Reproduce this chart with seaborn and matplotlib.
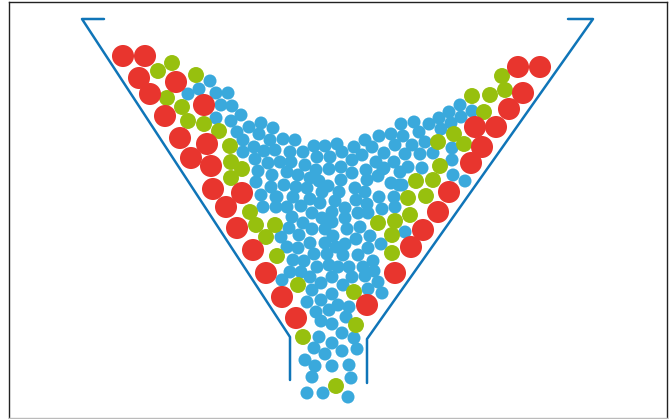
import pandas as pd
import matplotlib
matplotlib.use("Agg")
import matplotlib.pyplot as plt
import seaborn as sns

# particle centres
blue_x = [210, 199, 188, 216, 228, 221, 232, 216, 231, 241, 249, 261, 259, 237, 273,
          243, 254, 243, 270, 264, 275, 255, 268, 258, 272, 256, 271, 261, 276, 263,
          283, 295, 290, 303, 314, 325, 337, 354, 365, 379, 391, 395, 372, 384, 362, 342, 330, 317,
          280, 291, 305, 287, 284, 298, 296, 316, 310, 319, 329, 341, 352, 376, 394, 384, 366, 352,
          341, 367, 378, 391, 399, 307, 328, 355, 365, 339, 322, 277, 293, 379, 394, 287, 301, 310, 320, 335,
          356, 367, 382, 395, 276, 292, 312, 332, 345, 358, 368, 303, 322, 345, 332, 360,
          289, 281, 299, 312, 325, 347, 333, 356, 370, 287, 298, 310, 325, 345, 336, 368, 381,
          314, 327, 343, 358, 293, 304, 373, 363, 374, 329, 338, 349, 317, 290, 301, 310, 365, 352, 332, 282,
          321, 343, 378, 312, 332, 368, 382, 307, 321, 338, 329, 349, 316, 346, 321, 332, 342, 354, 319, 332,
          314, 342, 357, 325, 305, 315, 332, 349, 312, 351, 307, 323, 348,
          401, 414, 429, 439, 449, 461, 451, 441, 419, 403, 412, 425, 405, 420, 433, 452, 452, 408, 422, 400,
          453, 465, 402, 460, 472, 383, 405]
blue_y = [81, 89, 94, 93, 93, 105, 106, 118, 121, 115, 127, 123, 134, 132, 128,
          140, 147, 152, 140, 151, 150, 159, 163, 171, 175, 182, 187, 195, 197, 207,
          139, 140, 152, 152, 146, 146, 144, 147, 140, 136, 134, 145, 147, 153, 155, 152, 157, 157,
          162, 162, 165, 172, 185, 175, 187, 170, 178, 181, 169, 167, 160, 162, 162, 168, 170, 173,
          180, 180, 176, 183, 185, 188, 186, 188, 192, 192, 192, 197, 197, 197, 197, 207, 206, 199, 203, 201,
          200, 204, 209, 207, 207, 217, 213, 212, 208, 213, 213, 223, 218, 218, 222, 227,
          228, 237, 235, 229, 229, 229, 236, 239, 236, 247, 248, 243, 243, 244, 247, 248, 244,
          254, 254, 255, 255, 260, 261, 261, 267, 271, 265, 267, 267, 267, 272, 272, 277, 276, 277, 277, 280,
          283, 285, 282, 290, 294, 289, 293, 302, 300, 305, 310, 307, 312, 317, 321, 324, 333, 338, 337, 343,
          348, 351, 349, 354, 360, 366, 366, 365, 377, 378, 393, 393, 397,
          124, 122, 124, 118, 112, 117, 123, 129, 132, 136, 145, 142, 154, 154, 153, 148, 160, 167, 168, 172,
          175, 181, 185, 105, 111, 169, 232]

green_x = [158, 172, 196, 167, 182, 188, 204, 219, 230, 231, 242, 231, 250, 256, 275, 266, 277, 298, 354,
           378, 392, 392, 438, 454, 464, 440, 433, 416, 426, 408, 410, 395,
           502, 505, 490, 472, 484, 303, 356, 336]
green_y = [71, 63, 75, 98, 107, 121, 124, 131, 146, 162, 169, 178, 212, 225, 225, 237, 256, 285, 292,
           223, 235, 253, 142, 134, 144, 166, 180, 181, 196, 198, 215, 221,
           76, 90, 95, 96, 112, 337, 325, 386]

red_x = [123, 145, 139, 150, 176, 204, 165, 180, 207, 191, 211, 213, 242, 226, 237, 253, 266, 282, 296,
         367, 395, 411, 423, 438, 449, 471, 482, 475, 496, 509, 523, 518, 540]
red_y = [56, 56, 78, 94, 82, 105, 116, 138, 144, 158, 166, 189, 193, 207, 228, 250, 273, 297, 318,
         305, 273, 247, 230, 212, 192, 163, 147, 127, 127, 109, 93, 67, 67]

# funnel outline
left_x = [104, 82, 290, 290]
left_y = [19, 19, 337, 380]
right_x = [568, 593, 367, 367]
right_y = [19, 19, 339, 383]

kinds = ["small"] * len(blue_x) + ["medium"] * len(green_x) + ["large"] * len(red_x)
df = pd.DataFrame({"x": blue_x + green_x + red_x, "y": blue_y + green_y + red_y, "kind": kinds})

sns.set_style("white")
fig = plt.figure(figsize=(6.69, 4.19), dpi=100)
ax = fig.add_axes([9 / 669, 1 / 419, 658 / 669, 416 / 419])

sns.lineplot(x=left_x, y=left_y, sort=False, estimator=None, color="#0f75b8", lw=1.8, ax=ax)
sns.lineplot(x=right_x, y=right_y, sort=False, estimator=None, color="#0f75b8", lw=1.8, ax=ax)
sns.scatterplot(data=df, x="x", y="y", hue="kind", size="kind",
                palette={"small": "#3aa9dc", "medium": "#97c00e", "large": "#e8352e"},
                sizes={"small": 88, "medium": 132, "large": 252},
                edgecolor="none", legend=False, zorder=3, ax=ax)

ax.set_xlim(9, 667)
ax.set_ylim(418, 2)
ax.set_xticks([])
ax.set_yticks([])
ax.set_xlabel("")
ax.set_ylabel("")
for name, spine in ax.spines.items():
    spine.set_visible(True)
    spine.set_color("#222222")
    spine.set_linewidth(1.0)
ax.spines["bottom"].set_color("#bbbbbb")

fig.savefig("out.png", dpi=100)
